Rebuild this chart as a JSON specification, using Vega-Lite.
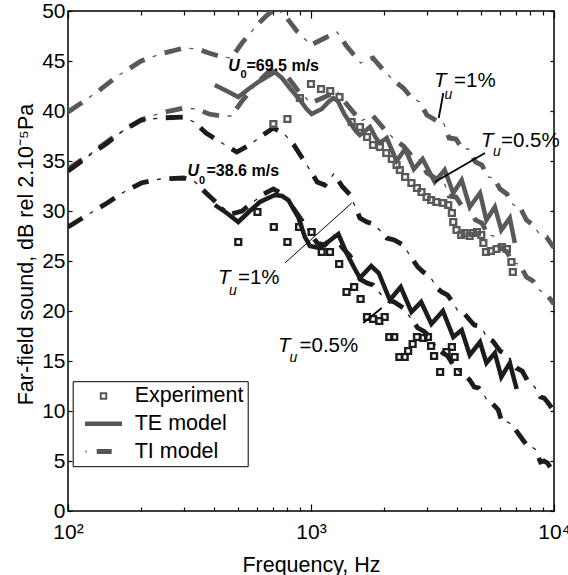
{
  "$schema": "https://vega.github.io/schema/vega-lite/v6.json",
  "width": 486,
  "height": 500,
  "autosize": {"type": "none"},
  "padding": {"left": 68, "top": 11, "right": 14, "bottom": 64},
  "background": "white",
  "config": {
    "font": "Liberation Sans",
    "view": {"stroke": "#000", "strokeWidth": 1.5},
    "axis": {"grid": false, "domain": false, "labelFont": "Liberation Sans", "labelFontSize": 21, "labelColor": "#000", "titleFont": "Liberation Sans", "titleFontSize": 21.5, "titleFontWeight": "normal", "titleColor": "#000", "tickColor": "#000", "tickWidth": 1.2, "labelFlush": false, "labelOverlap": false}
  },
  "datasets": {
    "ti": [
      {"s":"g1","u":"69.5","f":100,"v":39.9},{"s":"g1","u":"69.5","f":115,"v":40.9},{"s":"g1","u":"69.5","f":130,"v":41.8},{"s":"g1","u":"69.5","f":160,"v":43.5},{"s":"g1","u":"69.5","f":200,"v":45.0},{"s":"g1","u":"69.5","f":240,"v":45.7},{"s":"g1","u":"69.5","f":300,"v":46.3},{"s":"g1","u":"69.5","f":340,"v":46.2},{"s":"g1","u":"69.5","f":380,"v":45.8},{"s":"g1","u":"69.5","f":430,"v":45.4},{"s":"g1","u":"69.5","f":470,"v":45.3},{"s":"g1","u":"69.5","f":520,"v":46.8},{"s":"g1","u":"69.5","f":600,"v":48.6},{"s":"g1","u":"69.5","f":660,"v":49.6},{"s":"g1","u":"69.5","f":720,"v":50.3},{"s":"g1","u":"69.5","f":790,"v":49.4},{"s":"g1","u":"69.5","f":880,"v":47.9},{"s":"g1","u":"69.5","f":1000,"v":46.6},{"s":"g1","u":"69.5","f":1140,"v":47.3},{"s":"g1","u":"69.5","f":1280,"v":47.9},{"s":"g1","u":"69.5","f":1400,"v":46.5},{"s":"g1","u":"69.5","f":1600,"v":44.8},{"s":"g1","u":"69.5","f":1800,"v":45.3},{"s":"g1","u":"69.5","f":2000,"v":44.0},{"s":"g1","u":"69.5","f":2200,"v":43.0},{"s":"g1","u":"69.5","f":2400,"v":42.3},{"s":"g1","u":"69.5","f":2600,"v":41.3},{"s":"g1","u":"69.5","f":2800,"v":40.9},{"s":"g1","u":"69.5","f":3000,"v":39.6},{"s":"g1","u":"69.5","f":3300,"v":39.0},{"s":"g1","u":"69.5","f":3500,"v":38.9},{"s":"g1","u":"69.5","f":3700,"v":37.3},{"s":"g1","u":"69.5","f":3950,"v":37.2},{"s":"g1","u":"69.5","f":4200,"v":36.2},{"s":"g1","u":"69.5","f":4450,"v":36.2},{"s":"g1","u":"69.5","f":4750,"v":34.9},{"s":"g1","u":"69.5","f":5050,"v":34.6},{"s":"g1","u":"69.5","f":5350,"v":33.4},{"s":"g1","u":"69.5","f":5650,"v":33.3},{"s":"g1","u":"69.5","f":6000,"v":32.2},{"s":"g1","u":"69.5","f":6400,"v":31.7},{"s":"g1","u":"69.5","f":6800,"v":30.6},{"s":"g1","u":"69.5","f":7200,"v":30.5},{"s":"g1","u":"69.5","f":7700,"v":29.1},{"s":"g1","u":"69.5","f":8200,"v":28.6},{"s":"g1","u":"69.5","f":8700,"v":27.7},{"s":"g1","u":"69.5","f":9300,"v":27.4},{"s":"g1","u":"69.5","f":10000,"v":26.3},
      {"s":"g05","u":"69.5","f":100,"v":34.2},{"s":"g05","u":"69.5","f":115,"v":35.2},{"s":"g05","u":"69.5","f":130,"v":36.1},{"s":"g05","u":"69.5","f":160,"v":37.7},{"s":"g05","u":"69.5","f":200,"v":39.1},{"s":"g05","u":"69.5","f":240,"v":39.8},{"s":"g05","u":"69.5","f":300,"v":40.3},{"s":"g05","u":"69.5","f":340,"v":40.2},{"s":"g05","u":"69.5","f":380,"v":39.7},{"s":"g05","u":"69.5","f":430,"v":39.5},{"s":"g05","u":"69.5","f":470,"v":39.5},{"s":"g05","u":"69.5","f":520,"v":41.0},{"s":"g05","u":"69.5","f":600,"v":42.8},{"s":"g05","u":"69.5","f":660,"v":43.8},{"s":"g05","u":"69.5","f":720,"v":44.5},{"s":"g05","u":"69.5","f":790,"v":43.6},{"s":"g05","u":"69.5","f":880,"v":42.1},{"s":"g05","u":"69.5","f":1000,"v":40.8},{"s":"g05","u":"69.5","f":1140,"v":41.4},{"s":"g05","u":"69.5","f":1280,"v":42.0},{"s":"g05","u":"69.5","f":1400,"v":40.7},{"s":"g05","u":"69.5","f":1600,"v":39.0},{"s":"g05","u":"69.5","f":1800,"v":39.5},{"s":"g05","u":"69.5","f":2000,"v":38.2},{"s":"g05","u":"69.5","f":2200,"v":37.2},{"s":"g05","u":"69.5","f":2400,"v":36.5},{"s":"g05","u":"69.5","f":2600,"v":35.5},{"s":"g05","u":"69.5","f":2800,"v":35.1},{"s":"g05","u":"69.5","f":3000,"v":33.8},{"s":"g05","u":"69.5","f":3300,"v":33.2},{"s":"g05","u":"69.5","f":3500,"v":33.1},{"s":"g05","u":"69.5","f":3700,"v":31.5},{"s":"g05","u":"69.5","f":3950,"v":31.4},{"s":"g05","u":"69.5","f":4200,"v":30.4},{"s":"g05","u":"69.5","f":4450,"v":30.4},{"s":"g05","u":"69.5","f":4750,"v":29.1},{"s":"g05","u":"69.5","f":5050,"v":28.8},{"s":"g05","u":"69.5","f":5350,"v":27.6},{"s":"g05","u":"69.5","f":5650,"v":27.5},{"s":"g05","u":"69.5","f":6000,"v":26.4},{"s":"g05","u":"69.5","f":6400,"v":25.9},{"s":"g05","u":"69.5","f":6800,"v":24.8},{"s":"g05","u":"69.5","f":7200,"v":24.7},{"s":"g05","u":"69.5","f":7700,"v":23.4},{"s":"g05","u":"69.5","f":8200,"v":23.0},{"s":"g05","u":"69.5","f":8700,"v":22.1},{"s":"g05","u":"69.5","f":9300,"v":21.7},{"s":"g05","u":"69.5","f":10000,"v":20.7},
      {"s":"k1","u":"38.6","f":100,"v":34.0},{"s":"k1","u":"38.6","f":120,"v":35.4},{"s":"k1","u":"38.6","f":145,"v":36.8},{"s":"k1","u":"38.6","f":170,"v":38.1},{"s":"k1","u":"38.6","f":200,"v":39.1},{"s":"k1","u":"38.6","f":240,"v":39.3},{"s":"k1","u":"38.6","f":300,"v":39.4},{"s":"k1","u":"38.6","f":330,"v":38.9},{"s":"k1","u":"38.6","f":370,"v":37.8},{"s":"k1","u":"38.6","f":430,"v":36.8},{"s":"k1","u":"38.6","f":495,"v":35.9},{"s":"k1","u":"38.6","f":560,"v":36.6},{"s":"k1","u":"38.6","f":616,"v":37.4},{"s":"k1","u":"38.6","f":700,"v":38.3},{"s":"k1","u":"38.6","f":770,"v":37.8},{"s":"k1","u":"38.6","f":850,"v":36.6},{"s":"k1","u":"38.6","f":920,"v":35.3},{"s":"k1","u":"38.6","f":990,"v":34.1},{"s":"k1","u":"38.6","f":1060,"v":32.9},{"s":"k1","u":"38.6","f":1140,"v":32.6},{"s":"k1","u":"38.6","f":1240,"v":33.7},{"s":"k1","u":"38.6","f":1350,"v":32.4},{"s":"k1","u":"38.6","f":1450,"v":31.6},{"s":"k1","u":"38.6","f":1590,"v":29.3},{"s":"k1","u":"38.6","f":1700,"v":28.9},{"s":"k1","u":"38.6","f":1800,"v":28.7},{"s":"k1","u":"38.6","f":1950,"v":27.9},{"s":"k1","u":"38.6","f":2050,"v":27.3},{"s":"k1","u":"38.6","f":2200,"v":27.1},{"s":"k1","u":"38.6","f":2400,"v":26.6},{"s":"k1","u":"38.6","f":2500,"v":25.9},{"s":"k1","u":"38.6","f":2750,"v":24.4},{"s":"k1","u":"38.6","f":2900,"v":23.9},{"s":"k1","u":"38.6","f":3100,"v":23.4},{"s":"k1","u":"38.6","f":3300,"v":22.3},{"s":"k1","u":"38.6","f":3450,"v":21.9},{"s":"k1","u":"38.6","f":3650,"v":21.6},{"s":"k1","u":"38.6","f":3850,"v":20.8},{"s":"k1","u":"38.6","f":4000,"v":20.1},{"s":"k1","u":"38.6","f":4250,"v":19.8},{"s":"k1","u":"38.6","f":4500,"v":19.1},{"s":"k1","u":"38.6","f":4700,"v":18.6},{"s":"k1","u":"38.6","f":4900,"v":18.5},{"s":"k1","u":"38.6","f":5100,"v":18.1},{"s":"k1","u":"38.6","f":5300,"v":17.3},{"s":"k1","u":"38.6","f":5600,"v":17.0},{"s":"k1","u":"38.6","f":6000,"v":16.0},{"s":"k1","u":"38.6","f":6400,"v":15.6},{"s":"k1","u":"38.6","f":6750,"v":14.8},{"s":"k1","u":"38.6","f":7000,"v":14.3},{"s":"k1","u":"38.6","f":7400,"v":14.0},{"s":"k1","u":"38.6","f":7750,"v":13.1},{"s":"k1","u":"38.6","f":8200,"v":12.6},{"s":"k1","u":"38.6","f":8500,"v":12.1},{"s":"k1","u":"38.6","f":8800,"v":11.4},{"s":"k1","u":"38.6","f":9100,"v":11.3},{"s":"k1","u":"38.6","f":9400,"v":10.9},{"s":"k1","u":"38.6","f":10000,"v":10.0},
      {"s":"k05","u":"38.6","f":100,"v":28.4},{"s":"k05","u":"38.6","f":120,"v":29.6},{"s":"k05","u":"38.6","f":145,"v":30.8},{"s":"k05","u":"38.6","f":170,"v":31.9},{"s":"k05","u":"38.6","f":200,"v":32.8},{"s":"k05","u":"38.6","f":240,"v":33.2},{"s":"k05","u":"38.6","f":300,"v":33.3},{"s":"k05","u":"38.6","f":330,"v":33.0},{"s":"k05","u":"38.6","f":370,"v":31.8},{"s":"k05","u":"38.6","f":410,"v":30.8},{"s":"k05","u":"38.6","f":470,"v":29.7},{"s":"k05","u":"38.6","f":520,"v":30.0},{"s":"k05","u":"38.6","f":570,"v":30.8},{"s":"k05","u":"38.6","f":640,"v":31.7},{"s":"k05","u":"38.6","f":700,"v":32.2},{"s":"k05","u":"38.6","f":750,"v":31.8},{"s":"k05","u":"38.6","f":850,"v":30.2},{"s":"k05","u":"38.6","f":920,"v":29.0},{"s":"k05","u":"38.6","f":990,"v":27.8},{"s":"k05","u":"38.6","f":1060,"v":26.8},{"s":"k05","u":"38.6","f":1140,"v":26.6},{"s":"k05","u":"38.6","f":1240,"v":27.6},{"s":"k05","u":"38.6","f":1350,"v":26.3},{"s":"k05","u":"38.6","f":1450,"v":25.5},{"s":"k05","u":"38.6","f":1590,"v":23.2},{"s":"k05","u":"38.6","f":1700,"v":22.8},{"s":"k05","u":"38.6","f":1800,"v":22.6},{"s":"k05","u":"38.6","f":1950,"v":21.6},{"s":"k05","u":"38.6","f":2050,"v":21.1},{"s":"k05","u":"38.6","f":2200,"v":20.9},{"s":"k05","u":"38.6","f":2400,"v":20.3},{"s":"k05","u":"38.6","f":2500,"v":19.7},{"s":"k05","u":"38.6","f":2750,"v":18.3},{"s":"k05","u":"38.6","f":2900,"v":18.0},{"s":"k05","u":"38.6","f":3100,"v":17.4},{"s":"k05","u":"38.6","f":3300,"v":16.3},{"s":"k05","u":"38.6","f":3450,"v":15.9},{"s":"k05","u":"38.6","f":3650,"v":15.5},{"s":"k05","u":"38.6","f":3850,"v":14.6},{"s":"k05","u":"38.6","f":4000,"v":14.1},{"s":"k05","u":"38.6","f":4250,"v":13.7},{"s":"k05","u":"38.6","f":4500,"v":13.1},{"s":"k05","u":"38.6","f":4700,"v":12.4},{"s":"k05","u":"38.6","f":4900,"v":12.3},{"s":"k05","u":"38.6","f":5100,"v":11.8},{"s":"k05","u":"38.6","f":5350,"v":10.9},{"s":"k05","u":"38.6","f":5600,"v":10.7},{"s":"k05","u":"38.6","f":5900,"v":10.1},{"s":"k05","u":"38.6","f":6100,"v":8.9},{"s":"k05","u":"38.6","f":6400,"v":8.9},{"s":"k05","u":"38.6","f":6700,"v":8.7},{"s":"k05","u":"38.6","f":7000,"v":8.0},{"s":"k05","u":"38.6","f":7450,"v":7.1},{"s":"k05","u":"38.6","f":7850,"v":6.4},{"s":"k05","u":"38.6","f":8100,"v":6.4},{"s":"k05","u":"38.6","f":8350,"v":6.2},{"s":"k05","u":"38.6","f":8800,"v":4.9},{"s":"k05","u":"38.6","f":9100,"v":5.0},{"s":"k05","u":"38.6","f":9400,"v":4.8},{"s":"k05","u":"38.6","f":10000,"v":3.8}
    ],
    "te": [
      {"u":"69.5","f":402,"v":42.6},{"u":"69.5","f":450,"v":42.0},{"u":"69.5","f":502,"v":41.4},{"u":"69.5","f":560,"v":42.3},{"u":"69.5","f":616,"v":43.0},{"u":"69.5","f":710,"v":43.9},{"u":"69.5","f":760,"v":43.3},{"u":"69.5","f":818,"v":42.3},{"u":"69.5","f":900,"v":41.1},{"u":"69.5","f":960,"v":40.2},{"u":"69.5","f":1006,"v":39.7},{"u":"69.5","f":1107,"v":40.2},{"u":"69.5","f":1180,"v":40.9},{"u":"69.5","f":1235,"v":41.3},{"u":"69.5","f":1290,"v":41.0},{"u":"69.5","f":1370,"v":39.7},{"u":"69.5","f":1450,"v":38.8},{"u":"69.5","f":1530,"v":38.0},{"u":"69.5","f":1589,"v":37.6},{"u":"69.5","f":1670,"v":38.0},{"u":"69.5","f":1750,"v":38.4},{"u":"69.5","f":1850,"v":37.3},{"u":"69.5","f":1920,"v":36.8},{"u":"69.5","f":2050,"v":37.3},{"u":"69.5","f":2250,"v":35.0},{"u":"69.5","f":2440,"v":36.2},{"u":"69.5","f":2650,"v":34.2},{"u":"69.5","f":2880,"v":35.2},{"u":"69.5","f":3230,"v":32.9},{"u":"69.5","f":3550,"v":34.1},{"u":"69.5","f":3850,"v":31.8},{"u":"69.5","f":4170,"v":33.1},{"u":"69.5","f":4500,"v":30.4},{"u":"69.5","f":4960,"v":31.8},{"u":"69.5","f":5270,"v":29.1},{"u":"69.5","f":5710,"v":30.4},{"u":"69.5","f":6070,"v":28.1},{"u":"69.5","f":6580,"v":29.3},{"u":"69.5","f":6900,"v":26.8},
      {"u":"38.6","f":402,"v":30.6},{"u":"38.6","f":450,"v":29.8},{"u":"38.6","f":502,"v":28.9},{"u":"38.6","f":560,"v":30.0},{"u":"38.6","f":616,"v":30.9},{"u":"38.6","f":710,"v":31.6},{"u":"38.6","f":760,"v":31.5},{"u":"38.6","f":807,"v":31.1},{"u":"38.6","f":886,"v":29.4},{"u":"38.6","f":944,"v":27.4},{"u":"38.6","f":990,"v":26.5},{"u":"38.6","f":1087,"v":26.3},{"u":"38.6","f":1160,"v":26.8},{"u":"38.6","f":1296,"v":27.7},{"u":"38.6","f":1400,"v":25.8},{"u":"38.6","f":1500,"v":24.4},{"u":"38.6","f":1589,"v":23.3},{"u":"38.6","f":1770,"v":24.5},{"u":"38.6","f":1900,"v":23.8},{"u":"38.6","f":2110,"v":21.1},{"u":"38.6","f":2340,"v":22.4},{"u":"38.6","f":2590,"v":19.9},{"u":"38.6","f":2840,"v":20.9},{"u":"38.6","f":3130,"v":18.7},{"u":"38.6","f":3490,"v":20.0},{"u":"38.6","f":3850,"v":17.4},{"u":"38.6","f":4170,"v":18.1},{"u":"38.6","f":4500,"v":15.6},{"u":"38.6","f":4960,"v":16.9},{"u":"38.6","f":5270,"v":14.8},{"u":"38.6","f":5710,"v":15.8},{"u":"38.6","f":6070,"v":13.4},{"u":"38.6","f":6580,"v":14.8},{"u":"38.6","f":7020,"v":12.2}
    ],
    "exp": [
      {"u":"69.5","f":700,"v":38.7},{"u":"69.5","f":800,"v":39.2},{"u":"69.5","f":900,"v":41.3},{"u":"69.5","f":1000,"v":42.7},{"u":"69.5","f":1100,"v":42.2},{"u":"69.5","f":1200,"v":42.0},{"u":"69.5","f":1310,"v":41.4},{"u":"69.5","f":1470,"v":38.9},{"u":"69.5","f":1590,"v":38.4},{"u":"69.5","f":1700,"v":37.4},{"u":"69.5","f":1800,"v":36.6},{"u":"69.5","f":1920,"v":36.4},{"u":"69.5","f":2040,"v":35.8},{"u":"69.5","f":2150,"v":35.2},{"u":"69.5","f":2250,"v":34.6},{"u":"69.5","f":2320,"v":34.1},{"u":"69.5","f":2440,"v":33.4},{"u":"69.5","f":2590,"v":32.8},{"u":"69.5","f":2730,"v":32.3},{"u":"69.5","f":2850,"v":31.9},{"u":"69.5","f":2990,"v":31.4},{"u":"69.5","f":3120,"v":31.1},{"u":"69.5","f":3280,"v":30.9},{"u":"69.5","f":3500,"v":30.8},{"u":"69.5","f":3670,"v":30.6},{"u":"69.5","f":3800,"v":29.8},{"u":"69.5","f":3850,"v":28.9},{"u":"69.5","f":3970,"v":28.1},{"u":"69.5","f":4150,"v":27.6},{"u":"69.5","f":4290,"v":27.8},{"u":"69.5","f":4500,"v":27.5},{"u":"69.5","f":4640,"v":27.8},{"u":"69.5","f":4820,"v":27.9},{"u":"69.5","f":5020,"v":27.6},{"u":"69.5","f":5120,"v":26.8},{"u":"69.5","f":5250,"v":25.9},{"u":"69.5","f":5500,"v":26.0},{"u":"69.5","f":5800,"v":26.2},{"u":"69.5","f":6100,"v":26.4},{"u":"69.5","f":6400,"v":26.2},{"u":"69.5","f":6680,"v":24.9},{"u":"69.5","f":6770,"v":23.9},
      {"u":"38.6","f":502,"v":26.9},{"u":"38.6","f":602,"v":29.9},{"u":"38.6","f":703,"v":28.4},{"u":"38.6","f":800,"v":26.9},{"u":"38.6","f":893,"v":28.4},{"u":"38.6","f":1006,"v":27.9},{"u":"38.6","f":1107,"v":25.9},{"u":"38.6","f":1197,"v":25.9},{"u":"38.6","f":1306,"v":24.7},{"u":"38.6","f":1400,"v":21.9},{"u":"38.6","f":1505,"v":22.4},{"u":"38.6","f":1600,"v":21.2},{"u":"38.6","f":1700,"v":19.4},{"u":"38.6","f":1800,"v":19.2},{"u":"38.6","f":1910,"v":19.0},{"u":"38.6","f":2010,"v":19.4},{"u":"38.6","f":2100,"v":17.4},{"u":"38.6","f":2200,"v":17.4},{"u":"38.6","f":2310,"v":15.4},{"u":"38.6","f":2430,"v":15.4},{"u":"38.6","f":2510,"v":16.0},{"u":"38.6","f":2620,"v":16.7},{"u":"38.6","f":2730,"v":17.4},{"u":"38.6","f":2900,"v":17.3},{"u":"38.6","f":3030,"v":17.4},{"u":"38.6","f":3120,"v":16.5},{"u":"38.6","f":3210,"v":15.5},{"u":"38.6","f":3400,"v":13.9},{"u":"38.6","f":3610,"v":15.9},{"u":"38.6","f":3800,"v":16.4},{"u":"38.6","f":3900,"v":15.4},{"u":"38.6","f":4020,"v":13.9}
    ],
    "leadThick": [
      {"f1":3504,"v1":41.8,"f2":3354,"v2":39.3},
      {"f1":5200,"v1":35.8,"f2":3236,"v2":32.9},
      {"f1":1640,"v1":18.8,"f2":1954,"v2":20.3}
    ],
    "leadThin": [
      {"f1":781,"v1":24.8,"f2":1471,"v2":30.8}
    ]
  },
  "layer": [
    {
      "data": {"name": "ti"},
      "mark": {"type": "line", "strokeWidth": 4.8, "strokeDash": [17, 21], "clip": true, "strokeCap": "butt"},
      "encoding": {
        "x": {"field": "f", "type": "quantitative", "scale": {"type": "log", "domain": [100, 10000], "nice": false},
          "axis": {"orient": "bottom", "values": [100,200,300,400,500,600,700,800,900,1000,2000,3000,4000,5000,6000,7000,8000,9000,10000],
            "labelExpr": "datum.value == 100 ? '10²' : datum.value == 1000 ? '10³' : datum.value == 10000 ? '10⁴' : ''",
            "tickSize": {"condition": {"test": "datum.value == 100 || datum.value == 1000 || datum.value == 10000", "value": -7}, "value": -4},
            "labelPadding": 17, "title": "Frequency, Hz", "titleX": 243, "titleY": 60, "titleBaseline": "alphabetic", "titleAlign": "center"}},
        "y": {"field": "v", "type": "quantitative", "scale": {"domain": [0, 50], "nice": false, "zero": false},
          "axis": {"orient": "left", "values": [0,5,10,15,20,25,30,35,40,45,50], "tickSize": -4, "labelPadding": 7,
            "title": "Far-field sound, dB rel 2.10⁻⁵Pa", "titleX": -36, "titleY": 243, "titleAngle": -90, "titleBaseline": "alphabetic", "titleAlign": "center"}},
        "color": {"field": "u", "type": "nominal", "scale": {"domain": ["69.5", "38.6"], "range": ["#595959", "#1c1c1c"]}, "legend": null},
        "detail": {"field": "s"}
      }
    },
    {
      "data": {"name": "ti"},
      "mark": {"type": "line", "strokeWidth": 1.3, "strokeDash": [4, 34], "strokeDashOffset": 12.5, "clip": true},
      "encoding": {
        "x": {"field": "f", "type": "quantitative", "scale": {"type": "log", "domain": [100, 10000], "nice": false},
          "axis": {"orient": "top", "values": [100,200,300,400,500,600,700,800,900,1000,2000,3000,4000,5000,6000,7000,8000,9000,10000], "labels": false, "title": null,
            "tickSize": {"condition": {"test": "datum.value == 100 || datum.value == 1000 || datum.value == 10000", "value": -7}, "value": -4}}},
        "y": {"field": "v", "type": "quantitative", "scale": {"domain": [0, 50], "nice": false, "zero": false},
          "axis": {"orient": "right", "values": [0,5,10,15,20,25,30,35,40,45,50], "labels": false, "title": null, "tickSize": -4}},
        "color": {"field": "u", "type": "nominal", "scale": {"domain": ["69.5", "38.6"], "range": ["#595959", "#1c1c1c"]}, "legend": null},
        "detail": {"field": "s"}
      }
    },
    {
      "data": {"name": "te"},
      "mark": {"type": "line", "strokeWidth": 4.5, "clip": true},
      "encoding": {
        "x": {"field": "f", "type": "quantitative", "scale": {"type": "log", "domain": [100, 10000], "nice": false}, "axis": null},
        "y": {"field": "v", "type": "quantitative", "scale": {"domain": [0, 50], "nice": false, "zero": false}, "axis": null},
        "color": {"field": "u", "type": "nominal", "scale": {"domain": ["69.5", "38.6"], "range": ["#595959", "#1c1c1c"]}, "legend": null},
        "detail": {"field": "u"}
      }
    },
    {
      "data": {"name": "exp"},
      "mark": {"type": "point", "shape": "square", "filled": false, "size": 34, "strokeWidth": 2.4, "opacity": 1},
      "encoding": {
        "x": {"field": "f", "type": "quantitative", "scale": {"type": "log", "domain": [100, 10000], "nice": false}, "axis": null},
        "y": {"field": "v", "type": "quantitative", "scale": {"domain": [0, 50], "nice": false, "zero": false}, "axis": null},
        "color": {"field": "u", "type": "nominal", "scale": {"domain": ["69.5", "38.6"], "range": ["#595959", "#1c1c1c"]}, "legend": null}
      }
    },
    {
      "data": {"values": [{"k": "Experiment"}, {"k": "TE model"}, {"k": "TI model"}]},
      "mark": {"type": "point", "filled": true, "opacity": 0, "color": "#555555"},
      "encoding": {
        "shape": {"field": "k", "type": "nominal",
          "scale": {"domain": ["Experiment", "TE model", "TI model"],
            "range": ["M1.235,-0.37H1.975V0.37H1.235Z M1.425,-0.18V0.18H1.785V-0.18Z", "M-0.245,-0.23H3.455V0.23H-0.245Z", "M-0.19,-0.12H-0.09V0.12H-0.19Z M0.925,-0.25H2.425V0.25H0.925Z"]},
          "legend": {"orient": "none", "legendX": 4.7, "legendY": 370.2, "title": null, "padding": 4, "rowPadding": 4.8,
            "symbolSize": 400, "symbolStrokeWidth": 0, "symbolFillColor": "#555555", "symbolOpacity": 1, "labelOffset": 36.5, "labelFontSize": 21.5, "labelFont": "Liberation Sans", "labelColor": "#000",
            "strokeColor": "#000", "fillColor": "#fff", "labelExpr": "datum.label + '  '",
            "encode": {"symbols": {"update": {"opacity": {"value": 1}, "fill": {"value": "#555555"}, "stroke": {"value": "transparent"}}},
                       "legend": {"update": {"strokeWidth": {"value": 2}}}}}}
      }
    },
    {
      "data": {"name": "leadThick"},
      "mark": {"type": "rule", "strokeWidth": 1.8, "color": "#000"},
      "encoding": {
        "x": {"field": "f1", "type": "quantitative", "scale": {"type": "log", "domain": [100, 10000], "nice": false}, "axis": null},
        "x2": {"field": "f2"},
        "y": {"field": "v1", "type": "quantitative", "scale": {"domain": [0, 50], "nice": false, "zero": false}, "axis": null},
        "y2": {"field": "v2"}
      }
    },
    {
      "data": {"name": "leadThin"},
      "mark": {"type": "rule", "strokeWidth": 1, "color": "#000"},
      "encoding": {
        "x": {"field": "f1", "type": "quantitative", "scale": {"type": "log", "domain": [100, 10000], "nice": false}, "axis": null},
        "x2": {"field": "f2"},
        "y": {"field": "v1", "type": "quantitative", "scale": {"domain": [0, 50], "nice": false, "zero": false}, "axis": null},
        "y2": {"field": "v2"}
      }
    },
    {
      "data": {"values": [{"f": 456.7, "v": 44.05, "t": "U"}, {"f": 310.3, "v": 33.55, "t": "U"}]},
      "mark": {"type": "text", "align": "left", "baseline": "alphabetic", "fontSize": 16, "fontWeight": "bold", "fontStyle": "italic", "font": "Liberation Sans", "color": "#000"},
      "encoding": {
        "x": {"field": "f", "type": "quantitative", "scale": {"type": "log", "domain": [100, 10000], "nice": false}, "axis": null},
        "y": {"field": "v", "type": "quantitative", "scale": {"domain": [0, 50], "nice": false, "zero": false}, "axis": null},
        "text": {"field": "t"}
      }
    },
    {
      "data": {"values": [{"f": 512.8, "v": 43.3, "t": "0"}, {"f": 345.9, "v": 32.75, "t": "0"}]},
      "mark": {"type": "text", "align": "left", "baseline": "alphabetic", "fontSize": 11, "fontWeight": "bold", "font": "Liberation Sans", "color": "#000"},
      "encoding": {
        "x": {"field": "f", "type": "quantitative", "scale": {"type": "log", "domain": [100, 10000], "nice": false}, "axis": null},
        "y": {"field": "v", "type": "quantitative", "scale": {"domain": [0, 50], "nice": false, "zero": false}, "axis": null},
        "text": {"field": "t"}
      }
    },
    {
      "data": {"values": [{"f": 542.8, "v": 44.05, "t": "=69.5 m/s"}, {"f": 371.6, "v": 33.55, "t": "=38.6 m/s"}]},
      "mark": {"type": "text", "align": "left", "baseline": "alphabetic", "fontSize": 16, "fontWeight": "bold", "font": "Liberation Sans", "color": "#000"},
      "encoding": {
        "x": {"field": "f", "type": "quantitative", "scale": {"type": "log", "domain": [100, 10000], "nice": false}, "axis": null},
        "y": {"field": "v", "type": "quantitative", "scale": {"domain": [0, 50], "nice": false, "zero": false}, "axis": null},
        "text": {"field": "t"}
      }
    },
    {
      "data": {"values": [{"f": 3208, "v": 42.4, "t": "T"}, {"f": 5007, "v": 36.4, "t": "T"}, {"f": 414.3, "v": 22.75, "t": "T"}, {"f": 731.5, "v": 15.9, "t": "T"}]},
      "mark": {"type": "text", "align": "left", "baseline": "alphabetic", "fontSize": 20.5, "fontStyle": "italic", "font": "Liberation Sans", "color": "#000"},
      "encoding": {
        "x": {"field": "f", "type": "quantitative", "scale": {"type": "log", "domain": [100, 10000], "nice": false}, "axis": null},
        "y": {"field": "v", "type": "quantitative", "scale": {"domain": [0, 50], "nice": false, "zero": false}, "axis": null},
        "text": {"field": "t"}
      }
    },
    {
      "data": {"values": [{"f": 3540, "v": 41.25, "t": "u"}, {"f": 5610, "v": 35.5, "t": "u"}, {"f": 459.8, "v": 21.6, "t": "u"}, {"f": 815.6, "v": 14.9, "t": "u"}]},
      "mark": {"type": "text", "align": "left", "baseline": "alphabetic", "fontSize": 14, "fontStyle": "italic", "font": "Liberation Sans", "color": "#000"},
      "encoding": {
        "x": {"field": "f", "type": "quantitative", "scale": {"type": "log", "domain": [100, 10000], "nice": false}, "axis": null},
        "y": {"field": "v", "type": "quantitative", "scale": {"domain": [0, 50], "nice": false, "zero": false}, "axis": null},
        "text": {"field": "t"}
      }
    },
    {
      "data": {"values": [{"f": 3878, "v": 42.4, "t": "=1%"}, {"f": 6051, "v": 36.4, "t": "=0.5%"}, {"f": 500.7, "v": 22.75, "t": "=1%"}, {"f": 896.8, "v": 15.9, "t": "=0.5%"}]},
      "mark": {"type": "text", "align": "left", "baseline": "alphabetic", "fontSize": 20.5, "font": "Liberation Sans", "color": "#000"},
      "encoding": {
        "x": {"field": "f", "type": "quantitative", "scale": {"type": "log", "domain": [100, 10000], "nice": false}, "axis": null},
        "y": {"field": "v", "type": "quantitative", "scale": {"domain": [0, 50], "nice": false, "zero": false}, "axis": null},
        "text": {"field": "t"}
      }
    }
  ],
  "resolve": {"axis": {"x": "independent", "y": "independent"}}
}
